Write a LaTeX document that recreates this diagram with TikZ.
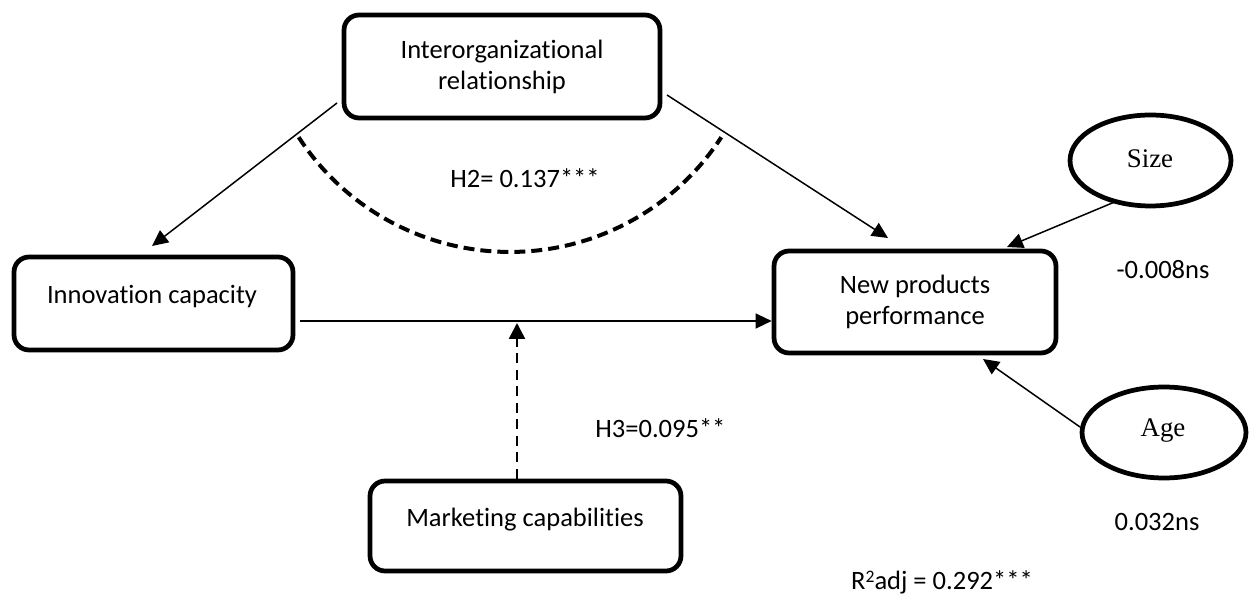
\documentclass[tikz,border=0pt]{standalone}
\usepackage{fontspec}
\setmainfont{Carlito}[Ligatures=CommonOff]
\newfontfamily\ovalfont{Liberation Serif}
\usetikzlibrary{arrows.meta,shapes.geometric}
\begin{document}
\begin{tikzpicture}[x=0.02cm,y=-0.02cm,
  box/.style={draw,line width=0.095cm,rounded corners=0.3cm,inner sep=0pt},
  oval/.style={draw,ellipse,line width=0.095cm,inner sep=0pt},
  ovaltxt/.style={inner sep=0pt,font=\ovalfont\fontsize{15.3}{18}\selectfont},
  txt/.style={font=\fontsize{15.1}{17.6}\selectfont,align=center,inner sep=0pt},
  conn/.style={line width=0.03cm,-{Triangle[length=0.32cm,width=0.3cm]}},
  dasharc/.style={line width=0.08cm,dash pattern=on 0.22cm off 0.12cm},
  dasharrow/.style={line width=0.05cm,dash pattern=on 0.2cm off 0.13cm,-{Triangle[length=0.32cm,width=0.32cm]}},
]
\useasboundingbox (0,0) rectangle (1254,597);
% boxes
\node[box,minimum width=6.32cm,minimum height=2.06cm] (io) at (502,66.5) {};
\node[txt] (iot) at (502,67) {Interorganizational\\relationship};
\node[box,minimum width=5.58cm,minimum height=1.86cm] (inn) at (153.5,303.5) {};
\node[txt] (innt) at (152,297) {Innovation capacity};
\node[box,minimum width=5.64cm,minimum height=2.04cm] (np) at (915,302) {};
\node[txt] (npt) at (915,302) {New products\\performance};
\node[box,minimum width=6.22cm,minimum height=1.80cm] (mc) at (525.5,526) {};
\node[txt] (mct) at (525,520) {Marketing capabilities};
\node[oval,minimum width=3.22cm,minimum height=1.82cm] (size) at (1150.5,160.5) {};
\node[ovaltxt] (sizet) at (1150,159) {Size};
\node[oval,minimum width=3.28cm,minimum height=1.82cm] (age) at (1164,432.5) {};
\node[ovaltxt] (aget) at (1163,431) {Age};
% labels
\node[txt] (h2) at (525,178) {H2= 0.137***};
\node[txt,anchor=west] (h3) at (595,428) {H3=0.095**};
\node[txt] (l1) at (1163,270) {-0.008ns};
\node[txt] (l2) at (1157,522) {0.032ns};
\node[txt] (r2) at (942,582) {R{\fontsize{10}{12}\selectfont\raisebox{3.6pt}{2}}adj = 0.292***};
% connector end points
\coordinate (a1s) at (337,103);
\coordinate (a1e) at (152,246);
\coordinate (a2s) at (667,95);
\coordinate (a2e) at (888,238);
\coordinate (hs) at (300,321);
\coordinate (v1) at (517,323);
\coordinate (ss) at (1117,201);
\coordinate (se) at (1007,247);
\coordinate (as) at (1080,427);
\coordinate (ae) at (983,359);
% connectors
\draw[conn] (a1s) -- (a1e);
\draw[conn] (a2s) -- (a2e);
\draw[conn] (hs) -- (hs -| np.west);
\draw[dasharrow] (mc.north -| v1) -- (v1);
\draw[conn] (ss) -- (se);
\draw[conn] (as) -- (ae);
\draw[dasharc] (510,0) ++(-147:5.04cm) arc[start angle=-147,end angle=-33,radius=5.04cm];
\end{tikzpicture}
\end{document}
